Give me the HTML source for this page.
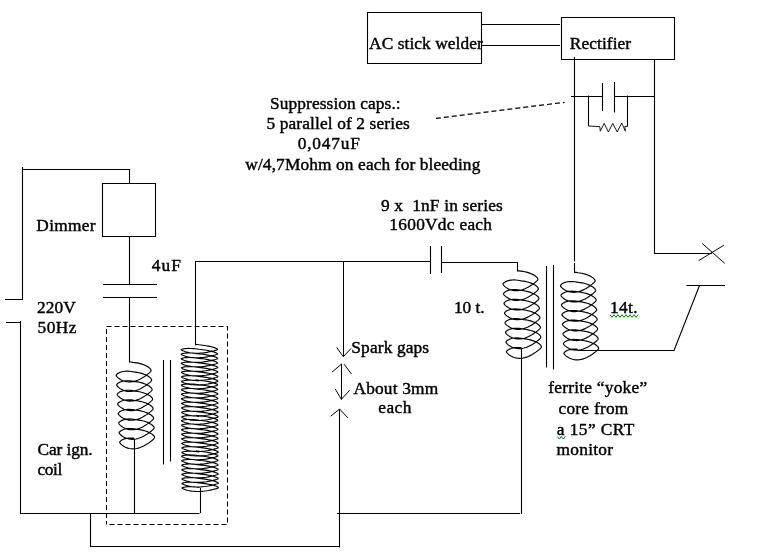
<!DOCTYPE html>
<html><head><meta charset="utf-8"><title>Circuit</title>
<style>html,body{margin:0;padding:0;background:#fff;}body{width:759px;height:554px;overflow:hidden;position:relative;}svg{display:block;position:absolute;left:0;top:0;}#main{will-change:transform;filter:grayscale(1);}text{font-family:"Liberation Serif",serif;font-size:17.33px;fill:#000;stroke:#000;stroke-width:0.42px;white-space:pre;}</style></head><body>
<svg id="main" width="759" height="554" viewBox="0 0 759 554">
<rect width="759" height="554" fill="#fff"/>
<g fill="none" stroke="#000" stroke-width="1.1">
<path d="M367.5,12.5 H481.5 V63.5 H367.5 Z" />
<path d="M561.5,17.5 H674.5 V59.5 H561.5 Z" />
<path d="M481.5,24.5 H560 M481.5,45.5 H560" />
<path d="M574.5,57 V261.5" />
<path d="M654.5,59 V253.5 H712" />
<path d="M702.2,243.5 L724.7,263.3 M698.7,260.6 L723.9,245.2" stroke-width="1"/>
<path d="M571,96.5 H602.5 M602.5,83 V111 M614.5,82 V112.5 M614.5,96.5 H654.5" />
<path d="M588.5,95.5 V126 M627.5,95.5 V126.5" />
<path d="M588.5,126 L599.8,126.6 L600.3,131.2 L604.2,123.4 L608.4,132 L612.8,123.4 L617.2,132 L621.7,123 L625.4,131.2 L624.8,126.5 L627.5,126.3" stroke-width="0.9" stroke-linejoin="miter"/>
<path d="M435.9,118.4 L564.6,102.3" stroke-dasharray="5,3" stroke-width="1.25"/>
<path d="M5,299.5 H22.5 M22.5,300 V167 M22.5,169.5 H129.5 V183.5" />
<path d="M102.5,183.5 H155.5 V236.5 H102.5 Z" />
<path d="M129.5,236.5 V284.5 M103,284.5 H157 M103,297.5 H157 M129.5,297.5 V362.5" />
<path d="M6,322.5 H20.5 M20.5,321 V513 M20,513.5 H199.5 M200.5,513 V488" />
<path d="M134.5,439 V513.5" />
<path d="M90.5,513.5 V546.5 H339.5 M339.5,547.5 V409.5" />
<path d="M106.5,326.5 H227.5 V524.5 H106.5" stroke-dasharray="5,3"/>
<path d="M106.5,329 V524.5" stroke-dasharray="5,3"/>
<path d="M163.5,360 V464.5 M170.5,360 V461.5" />
<path d="M195.5,345.5 V261.5 H430.5" />
<path d="M430.5,246 V274 M441.5,246 V273 M441.5,262.5 H517.5 V271.5" />
<path d="M343.5,261.5 V356.5 M336.6,347.4 L343.3,356.7 L351.1,348.4" stroke-width="1"/>
<path d="M341.5,364 V399.5 M332,372.1 L341.8,363.9 M344,364.2 L351.5,374 M335.1,388.8 L341.4,399.3 L349.7,390.2" stroke-width="1"/>
<path d="M330.7,416.2 L339.6,409 L347.9,417.9" stroke-width="1"/>
<path d="M337,513.5 H520 M521.5,514 V348" />
<path d="M546.5,266 V367.5 M553.5,265 V369.5" />
<path d="M578,350.5 H674 L699.5,285.5 M686.5,285.5 H725" />
<path d="M574.5,263 V273" />
<path d="M129.37,361.73 L131.19,361.97 L133.03,362.32 L134.88,362.56 L136.71,362.83 L138.51,363.18 L140.25,363.60 L141.91,364.09 L143.49,364.65 L144.95,365.25 L146.29,365.89 L147.48,366.56 L148.53,367.24 L149.41,367.94 L150.11,368.62 L150.64,369.28 L150.97,369.90 L151.12,370.47 L151.07,370.84 L150.83,371.25 L150.41,371.76 L149.79,372.37 L149.00,373.08 L148.05,373.88 L146.93,374.76 L145.67,375.68 L144.27,376.64 L142.76,377.60 L141.15,378.53 L139.46,379.41 L137.70,380.19 L135.90,380.86 L134.07,381.38 L132.24,381.75 L130.42,381.94 L128.64,381.95 L126.92,381.79 L125.27,381.48 L123.71,381.01 L122.26,380.43 L120.93,379.77 L119.75,379.05 L118.71,378.32 L117.85,377.60 L117.15,376.93 L116.64,376.34 L116.31,375.84 L116.18,375.45 L116.24,375.11 L116.49,374.70 L116.92,374.22 L117.55,373.69 L118.35,373.16 L119.32,372.65 L120.45,372.18 L121.72,371.77 L123.13,371.46 L124.65,371.24 L126.28,371.14 L127.99,371.15 L129.76,371.28 L131.58,371.52 L133.42,371.86 L135.27,372.10 L137.10,372.37 L138.90,372.71 L140.64,373.13 L142.31,373.62 L143.89,374.17 L145.36,374.77 L146.71,375.41 L147.91,376.08 L148.97,376.76 L149.86,377.45 L150.57,378.14 L151.11,378.80 L151.46,379.42 L151.62,380.00 L151.58,380.38 L151.35,380.78 L150.94,381.29 L150.34,381.89 L149.56,382.60 L148.61,383.39 L147.50,384.26 L146.25,385.19 L144.86,386.14 L143.36,387.10 L141.75,388.04 L140.06,388.91 L138.31,389.70 L136.51,390.38 L134.68,390.91 L132.85,391.29 L131.03,391.49 L129.25,391.52 L127.52,391.37 L125.87,391.06 L124.30,390.61 L122.84,390.03 L121.51,389.37 L120.32,388.66 L119.27,387.93 L118.40,387.21 L117.69,386.53 L117.17,385.93 L116.83,385.42 L116.68,385.03 L116.73,384.70 L116.96,384.29 L117.39,383.81 L118.00,383.29 L118.79,382.76 L119.75,382.24 L120.87,381.76 L122.14,381.36 L123.54,381.03 L125.06,380.81 L126.67,380.70 L128.38,380.71 L130.15,380.83 L131.96,381.06 L133.80,381.39 L135.65,381.65 L137.49,381.91 L139.29,382.25 L141.04,382.67 L142.71,383.15 L144.30,383.70 L145.78,384.29 L147.13,384.93 L148.34,385.59 L149.41,386.28 L150.31,386.97 L151.04,387.65 L151.58,388.32 L151.94,388.94 L152.11,389.53 L152.09,389.92 L151.87,390.31 L151.47,390.81 L150.88,391.41 L150.11,392.11 L149.17,392.90 L148.08,393.77 L146.83,394.69 L145.45,395.64 L143.95,396.60 L142.35,397.54 L140.67,398.42 L138.92,399.22 L137.12,399.90 L135.30,400.45 L133.46,400.83 L131.65,401.04 L129.86,401.08 L128.13,400.94 L126.47,400.64 L124.89,400.20 L123.43,399.63 L122.09,398.98 L120.89,398.26 L119.83,397.53 L118.94,396.81 L118.23,396.13 L117.69,395.53 L117.34,395.01 L117.18,394.61 L117.22,394.28 L117.44,393.87 L117.86,393.40 L118.46,392.88 L119.24,392.35 L120.19,391.83 L121.30,391.35 L122.56,390.94 L123.95,390.61 L125.46,390.38 L127.07,390.27 L128.77,390.26 L130.54,390.38 L132.35,390.60 L134.19,390.93 L136.04,391.19 L137.88,391.45 L139.68,391.79 L141.43,392.20 L143.11,392.68 L144.70,393.22 L146.19,393.81 L147.55,394.45 L148.77,395.11 L149.85,395.80 L150.76,396.49 L151.50,397.17 L152.05,397.84 L152.43,398.47 L152.61,399.05 L152.60,399.46 L152.39,399.85 L152.00,400.34 L151.42,400.93 L150.66,401.63 L149.74,402.41 L148.65,403.27 L147.41,404.19 L146.04,405.14 L144.55,406.10 L142.96,407.04 L141.28,407.93 L139.53,408.73 L137.73,409.42 L135.91,409.98 L134.08,410.37 L132.26,410.60 L130.47,410.64 L128.73,410.52 L127.07,410.23 L125.49,409.79 L124.02,409.23 L122.67,408.58 L121.46,407.87 L120.39,407.14 L119.49,406.41 L118.77,405.73 L118.22,405.12 L117.86,404.60 L117.69,404.19 L117.71,403.86 L117.92,403.46 L118.33,402.99 L118.92,402.47 L119.69,401.94 L120.63,401.42 L121.73,400.94 L122.97,400.52 L124.36,400.19 L125.86,399.95 L127.47,399.83 L129.16,399.82 L130.93,399.93 L132.74,400.14 L134.58,400.47 L136.43,400.74 L138.26,400.99 L140.07,401.32 L141.82,401.73 L143.51,402.21 L145.11,402.74 L146.60,403.34 L147.97,403.97 L149.20,404.63 L150.29,405.31 L151.21,406.01 L151.96,406.69 L152.52,407.36 L152.91,407.99 L153.10,408.58 L153.10,409.00 L152.91,409.38 L152.53,409.86 L151.96,410.45 L151.22,411.14 L150.30,411.92 L149.22,412.78 L147.99,413.69 L146.63,414.64 L145.14,415.61 L143.56,416.55 L141.88,417.44 L140.14,418.25 L138.34,418.94 L136.52,419.51 L134.69,419.91 L132.87,420.15 L131.08,420.21 L129.34,420.09 L127.67,419.81 L126.08,419.38 L124.60,418.83 L123.25,418.18 L122.03,417.47 L120.95,416.74 L120.04,416.02 L119.31,415.33 L118.75,414.72 L118.38,414.19 L118.19,413.77 L118.20,413.44 L118.41,413.05 L118.80,412.58 L119.38,412.07 L120.13,411.53 L121.06,411.01 L122.15,410.53 L123.39,410.11 L124.77,409.77 L126.27,409.53 L127.87,409.39 L129.56,409.38 L131.32,409.48 L133.12,409.69 L134.96,410.00 L136.81,410.29 L138.65,410.53 L140.46,410.86 L142.22,411.26 L143.91,411.74 L145.51,412.27 L147.01,412.86 L148.39,413.49 L149.63,414.15 L150.72,414.83 L151.65,415.52 L152.41,416.21 L152.99,416.88 L153.39,417.51 L153.59,418.10 L153.61,418.54 L153.43,418.91 L153.06,419.39 L152.50,419.97 L151.77,420.66 L150.86,421.43 L149.79,422.28 L148.57,423.19 L147.22,424.14 L145.74,425.11 L144.16,426.05 L142.49,426.94 L140.75,427.76 L138.96,428.46 L137.14,429.04 L135.30,429.45 L133.48,429.70 L131.69,429.77 L129.94,429.66 L128.27,429.39 L126.68,428.97 L125.19,428.42 L123.83,427.78 L122.60,427.08 L121.52,426.35 L120.60,425.62 L119.85,424.93 L119.28,424.31 L118.89,423.78 L118.70,423.36 L118.70,423.03 L118.89,422.63 L119.27,422.17 L119.84,421.66 L120.58,421.13 L121.50,420.60 L122.58,420.12 L123.81,419.69 L125.18,419.35 L126.67,419.10 L128.27,418.96 L129.95,418.94 L131.71,419.03 L133.51,419.23 L135.35,419.54 L137.20,419.84 L139.04,420.08 L140.85,420.40 L142.61,420.80 L144.31,421.26 L145.92,421.80 L147.42,422.38 L148.81,423.01 L150.06,423.67 L151.16,424.35 L152.10,425.04 L152.87,425.73 L153.46,426.40 L153.87,427.03 L154.09,427.63 L154.11,428.08 L153.94,428.45 L153.59,428.92 L153.04,429.49 L152.32,430.17 L151.42,430.94 L150.36,431.79 L149.15,432.70 L147.80,433.65 L146.33,434.61 L144.76,435.55 L143.09,436.45 L141.36,437.27 L139.57,437.98 L137.75,438.57 L135.92,438.99 L134.09,439.25 L132.30,439.33 L130.55,439.23 L128.87,438.97 L127.27,438.56 L125.78,438.02 L124.41,437.38 L123.17,436.68 L122.08,435.95 L121.15,435.22 L120.39,434.53 L119.81,433.91 L119.41,433.37 L119.21,432.94 L119.19,432.61 L119.37,432.22 L119.74,431.76 L120.30,431.25 L121.03,430.72 L121.94,430.19 L123.01,429.71 L124.23,429.27 L125.59,428.92 L127.08,428.67 L128.67,428.52 L130.35,428.49 L132.10,428.58 L133.90,428.78 L135.74,429.08 L137.58,429.38 L139.42,429.62 L141.24,429.94 L143.00,430.33 L144.70,430.79 L146.32,431.32 L147.83,431.90 L149.23,432.53 L150.48,433.19 L151.60,433.87 L152.55,434.56 L153.33,435.24 L153.93,435.91 L154.35,436.56 L154.58,437.15 L154.62,437.62 L154.46,437.98 L154.11,438.45 L153.58,439.02 L152.87,439.69 L151.98,440.45 L150.93,441.29 L149.73,442.20 L148.39,443.15 L146.93,444.11 L145.36,445.06 L143.70,445.96 L141.96,446.78 L140.18,447.50 L138.36,448.09 L136.53,448.53 L134.70,448.80 L132.91,448.89 L131.15,448.80 L129.47,448.55 L127.87,448.15 L126.37,447.62 L124.99,446.99 L123.74,446.29 L122.64,445.56 L121.70,444.83 L120.93,444.13 L120.34,443.50 L119.93,442.96 L119.71,442.52 L119.69,442.19 L119.85,441.81 L120.21,441.35 L120.76,440.84 L121.48,440.31 L122.38,439.79 L123.44,439.29 L124.65,438.86 L126.01,438.50 L127.48,438.24 L129.06,438.09 L130.74,438.05 L132.49,438.13 L134.29,438.32" stroke-width="1.15" stroke-linejoin="round"/>
<path d="M195.33,344.27 L197.20,344.50 L199.10,344.77 L201.01,344.98 L202.89,345.21 L204.74,345.47 L206.52,345.76 L208.23,346.08 L209.84,346.42 L211.33,346.77 L212.69,347.13 L213.91,347.49 L214.97,347.85 L215.85,348.21 L216.55,348.54 L217.07,348.86 L217.39,349.15 L217.51,349.41 L217.44,349.55 L217.16,349.72 L216.69,349.91 L216.04,350.14 L215.19,350.40 L214.18,350.70 L213.00,351.01 L211.67,351.34 L210.21,351.67 L208.63,352.00 L206.94,352.32 L205.17,352.60 L203.34,352.84 L201.47,353.03 L199.57,353.16 L197.67,353.22 L195.79,353.21 L193.94,353.12 L192.16,352.96 L190.45,352.74 L188.84,352.46 L187.35,352.14 L185.98,351.79 L184.77,351.43 L183.71,351.06 L182.82,350.71 L182.11,350.39 L181.60,350.12 L181.27,349.89 L181.15,349.72 L181.22,349.58 L181.49,349.42 L181.96,349.23 L182.62,349.05 L183.46,348.87 L184.47,348.71 L185.65,348.58 L186.97,348.49 L188.43,348.44 L190.02,348.45 L191.70,348.51 L193.47,348.63 L195.30,348.80 L197.18,349.03 L199.08,349.30 L200.98,349.51 L202.86,349.74 L204.71,350.00 L206.50,350.29 L208.21,350.60 L209.82,350.94 L211.32,351.29 L212.69,351.65 L213.92,352.01 L214.98,352.38 L215.87,352.73 L216.59,353.07 L217.11,353.39 L217.44,353.68 L217.57,353.94 L217.51,354.09 L217.24,354.25 L216.78,354.44 L216.13,354.67 L215.30,354.93 L214.29,355.22 L213.12,355.53 L211.80,355.86 L210.34,356.20 L208.76,356.53 L207.08,356.84 L205.32,357.13 L203.49,357.37 L201.62,357.56 L199.72,357.69 L197.82,357.76 L195.93,357.75 L194.09,357.66 L192.30,357.51 L190.59,357.29 L188.97,357.02 L187.47,356.70 L186.10,356.35 L184.88,355.98 L183.81,355.62 L182.92,355.27 L182.20,354.95 L181.68,354.67 L181.34,354.44 L181.21,354.27 L181.27,354.13 L181.53,353.96 L181.99,353.78 L182.64,353.60 L183.47,353.41 L184.48,353.25 L185.65,353.12 L186.97,353.03 L188.42,352.98 L190.00,352.99 L191.68,353.05 L193.44,353.16 L195.27,353.33 L197.15,353.56 L199.05,353.82 L200.95,354.04 L202.84,354.26 L204.69,354.53 L206.48,354.81 L208.19,355.13 L209.81,355.46 L211.32,355.81 L212.69,356.17 L213.92,356.54 L214.99,356.90 L215.89,357.25 L216.62,357.59 L217.15,357.91 L217.49,358.20 L217.63,358.47 L217.57,358.62 L217.32,358.78 L216.87,358.97 L216.22,359.20 L215.40,359.46 L214.40,359.75 L213.24,360.06 L211.92,360.39 L210.47,360.72 L208.90,361.05 L207.22,361.37 L205.46,361.65 L203.64,361.90 L201.77,362.10 L199.87,362.23 L197.97,362.30 L196.08,362.29 L194.23,362.21 L192.44,362.06 L190.73,361.84 L189.11,361.57 L187.60,361.25 L186.22,360.90 L184.99,360.54 L183.92,360.17 L183.02,359.82 L182.29,359.50 L181.76,359.22 L181.41,358.99 L181.27,358.82 L181.32,358.68 L181.58,358.51 L182.03,358.33 L182.67,358.14 L183.49,357.96 L184.49,357.80 L185.65,357.67 L186.96,357.57 L188.41,357.52 L189.98,357.53 L191.66,357.58 L193.42,357.70 L195.24,357.87 L197.12,358.08 L199.02,358.35 L200.92,358.57 L202.81,358.79 L204.66,359.05 L206.46,359.34 L208.17,359.65 L209.80,359.99 L211.31,360.34 L212.69,360.70 L213.93,361.06 L215.01,361.42 L215.92,361.78 L216.65,362.12 L217.19,362.44 L217.54,362.73 L217.69,362.99 L217.64,363.15 L217.39,363.31 L216.95,363.50 L216.32,363.73 L215.50,363.99 L214.51,364.27 L213.35,364.58 L212.05,364.91 L210.60,365.25 L209.03,365.58 L207.36,365.89 L205.61,366.18 L203.78,366.43 L201.91,366.63 L200.02,366.76 L198.12,366.83 L196.23,366.83 L194.38,366.76 L192.58,366.61 L190.86,366.39 L189.24,366.12 L187.73,365.81 L186.35,365.46 L185.11,365.10 L184.03,364.73 L183.11,364.38 L182.38,364.06 L181.84,363.77 L181.49,363.54 L181.33,363.36 L181.38,363.22 L181.62,363.06 L182.06,362.88 L182.69,362.69 L183.51,362.51 L184.50,362.35 L185.65,362.21 L186.96,362.12 L188.40,362.06 L189.97,362.06 L191.64,362.12 L193.39,362.23 L195.22,362.40 L197.09,362.61 L198.99,362.88 L200.89,363.10 L202.78,363.32 L204.63,363.58 L206.43,363.87 L208.16,364.18 L209.78,364.51 L211.30,364.86 L212.69,365.22 L213.93,365.58 L215.02,365.95 L215.94,366.30 L216.68,366.64 L217.23,366.96 L217.59,367.26 L217.75,367.52 L217.71,367.69 L217.47,367.84 L217.04,368.03 L216.41,368.26 L215.60,368.51 L214.62,368.80 L213.47,369.11 L212.17,369.44 L210.73,369.77 L209.17,370.10 L207.50,370.42 L205.75,370.71 L203.93,370.96 L202.06,371.16 L200.17,371.30 L198.26,371.37 L196.38,371.37 L194.52,371.30 L192.73,371.16 L191.00,370.95 L189.37,370.68 L187.86,370.36 L186.47,370.02 L185.22,369.65 L184.13,369.29 L183.21,368.94 L182.47,368.61 L181.92,368.33 L181.56,368.09 L181.40,367.91 L181.43,367.77 L181.67,367.61 L182.10,367.43 L182.72,367.24 L183.52,367.06 L184.51,366.89 L185.65,366.76 L186.95,366.66 L188.39,366.61 L189.95,366.60 L191.62,366.66 L193.37,366.76 L195.19,366.93 L197.06,367.14 L198.96,367.40 L200.86,367.63 L202.75,367.85 L204.61,368.11 L206.41,368.39 L208.14,368.70 L209.77,369.04 L211.29,369.38 L212.69,369.74 L213.94,370.11 L215.03,370.47 L215.96,370.82 L216.71,371.17 L217.27,371.49 L217.63,371.78 L217.80,372.05 L217.77,372.22 L217.55,372.37 L217.12,372.56 L216.51,372.79 L215.71,373.04 L214.73,373.33 L213.59,373.63 L212.29,373.96 L210.86,374.29 L209.31,374.63 L207.64,374.94 L205.90,375.24 L204.08,375.49 L202.21,375.69 L200.32,375.83 L198.41,375.91 L196.52,375.91 L194.67,375.85 L192.87,375.70 L191.14,375.50 L189.51,375.23 L187.99,374.92 L186.59,374.57 L185.34,374.21 L184.24,373.85 L183.31,373.49 L182.56,373.17 L182.00,372.88 L181.63,372.64 L181.46,372.46 L181.48,372.32 L181.71,372.16 L182.13,371.98 L182.74,371.79 L183.54,371.61 L184.52,371.44 L185.66,371.30 L186.95,371.20 L188.38,371.15 L189.94,371.14 L191.60,371.19 L193.35,371.30 L195.16,371.46 L197.03,371.67 L198.93,371.93 L200.83,372.16 L202.72,372.38 L204.58,372.63 L206.39,372.92 L208.12,373.23 L209.76,373.56 L211.28,373.91 L212.68,374.27 L213.94,374.63 L215.05,374.99 L215.98,375.35 L216.73,375.69 L217.30,376.01 L217.68,376.31 L217.86,376.58 L217.84,376.75 L217.62,376.91 L217.21,377.09 L216.60,377.31 L215.81,377.57 L214.84,377.85 L213.71,378.16 L212.42,378.48 L210.99,378.82 L209.44,379.15 L207.78,379.47 L206.04,379.76 L204.22,380.02 L202.36,380.22 L200.47,380.37 L198.56,380.45 L196.67,380.46 L194.82,380.39 L193.01,380.25 L191.28,380.05 L189.64,379.79 L188.11,379.48 L186.71,379.13 L185.45,378.77 L184.35,378.40 L183.41,378.05 L182.65,377.72 L182.08,377.43 L181.70,377.19 L181.52,377.00 L181.54,376.86 L181.76,376.70 L182.17,376.53 L182.77,376.34 L183.56,376.16 L184.53,375.99 L185.66,375.85 L186.94,375.75 L188.37,375.69 L189.92,375.68 L191.58,375.73 L193.32,375.83 L195.14,375.99 L197.00,376.20 L198.90,376.46 L200.80,376.69 L202.70,376.91 L204.56,377.16 L206.36,377.44 L208.10,377.75 L209.74,378.08 L211.27,378.43 L212.68,378.79 L213.95,379.15 L215.06,379.51 L216.00,379.87 L216.76,380.21 L217.34,380.54 L217.73,380.84 L217.92,381.11 L217.90,381.29 L217.70,381.44 L217.29,381.62 L216.69,381.84 L215.91,382.10 L214.95,382.38 L213.82,382.68 L212.54,383.01 L211.12,383.34 L209.58,383.68 L207.92,384.00 L206.18,384.29 L204.37,384.55 L202.51,384.75 L200.61,384.90 L198.71,384.99 L196.82,385.00 L194.96,384.94 L193.16,384.80 L191.42,384.60 L189.78,384.34 L188.24,384.03 L186.83,383.69 L185.57,383.33 L184.46,382.96 L183.51,382.60 L182.75,382.27 L182.17,381.98 L181.78,381.74 L181.59,381.55 L181.59,381.41 L181.80,381.25 L182.20,381.07 L182.80,380.89 L183.58,380.70 L184.54,380.54 L185.66,380.40 L186.94,380.29 L188.36,380.23 L189.90,380.22 L191.56,380.27 L193.30,380.37 L195.11,380.52 L196.98,380.73 L198.87,380.98" stroke-width="1.15" stroke-linejoin="round"/>
<path d="M195.48,379.77 L197.35,380.00 L199.25,380.27 L201.16,380.48 L203.04,380.71 L204.89,380.97 L206.67,381.26 L208.38,381.58 L209.99,381.92 L211.48,382.27 L212.84,382.63 L214.06,382.99 L215.12,383.35 L216.00,383.71 L216.70,384.04 L217.22,384.36 L217.54,384.65 L217.66,384.91 L217.59,385.05 L217.31,385.22 L216.84,385.41 L216.19,385.64 L215.34,385.90 L214.33,386.20 L213.15,386.51 L211.82,386.84 L210.36,387.17 L208.78,387.50 L207.09,387.82 L205.32,388.10 L203.49,388.34 L201.62,388.53 L199.72,388.66 L197.82,388.72 L195.94,388.71 L194.09,388.62 L192.31,388.46 L190.60,388.24 L188.99,387.96 L187.50,387.64 L186.13,387.29 L184.92,386.93 L183.86,386.56 L182.97,386.21 L182.26,385.89 L181.75,385.62 L181.42,385.39 L181.30,385.22 L181.37,385.08 L181.64,384.92 L182.11,384.73 L182.77,384.55 L183.61,384.37 L184.62,384.21 L185.80,384.08 L187.12,383.99 L188.58,383.94 L190.17,383.95 L191.85,384.01 L193.62,384.13 L195.45,384.30 L197.33,384.53 L199.23,384.80 L201.13,385.01 L203.01,385.24 L204.86,385.50 L206.65,385.79 L208.36,386.10 L209.97,386.44 L211.47,386.79 L212.84,387.15 L214.07,387.51 L215.13,387.88 L216.02,388.23 L216.74,388.57 L217.26,388.89 L217.59,389.18 L217.72,389.44 L217.66,389.59 L217.39,389.75 L216.93,389.94 L216.28,390.17 L215.45,390.43 L214.44,390.72 L213.27,391.03 L211.95,391.36 L210.49,391.70 L208.91,392.03 L207.23,392.34 L205.47,392.63 L203.64,392.87 L201.77,393.06 L199.87,393.19 L197.97,393.26 L196.08,393.25 L194.24,393.16 L192.45,393.01 L190.74,392.79 L189.12,392.52 L187.62,392.20 L186.25,391.85 L185.03,391.48 L183.96,391.12 L183.07,390.77 L182.35,390.45 L181.83,390.17 L181.49,389.94 L181.36,389.77 L181.42,389.63 L181.68,389.46 L182.14,389.28 L182.79,389.10 L183.62,388.91 L184.63,388.75 L185.80,388.62 L187.12,388.53 L188.57,388.48 L190.15,388.49 L191.83,388.55 L193.59,388.66 L195.42,388.83 L197.30,389.06 L199.20,389.32 L201.10,389.54 L202.99,389.76 L204.84,390.03 L206.63,390.31 L208.34,390.63 L209.96,390.96 L211.47,391.31 L212.84,391.67 L214.07,392.04 L215.14,392.40 L216.04,392.75 L216.77,393.09 L217.30,393.41 L217.64,393.70 L217.78,393.97 L217.72,394.12 L217.47,394.28 L217.02,394.47 L216.37,394.70 L215.55,394.96 L214.55,395.25 L213.39,395.56 L212.07,395.89 L210.62,396.22 L209.05,396.55 L207.37,396.87 L205.61,397.15 L203.79,397.40 L201.92,397.60 L200.02,397.73 L198.12,397.80 L196.23,397.79 L194.38,397.71 L192.59,397.56 L190.88,397.34 L189.26,397.07 L187.75,396.75 L186.37,396.40 L185.14,396.04 L184.07,395.67 L183.17,395.32 L182.44,395.00 L181.91,394.72 L181.56,394.49 L181.42,394.32 L181.47,394.18 L181.73,394.01 L182.18,393.83 L182.82,393.64 L183.64,393.46 L184.64,393.30 L185.80,393.17 L187.11,393.07 L188.56,393.02 L190.13,393.03 L191.81,393.08 L193.57,393.20 L195.39,393.37 L197.27,393.58 L199.17,393.85 L201.07,394.07 L202.96,394.29 L204.81,394.55 L206.61,394.84 L208.32,395.15 L209.95,395.49 L211.46,395.84 L212.84,396.20 L214.08,396.56 L215.16,396.92 L216.07,397.28 L216.80,397.62 L217.34,397.94 L217.69,398.23 L217.84,398.49 L217.79,398.65 L217.54,398.81 L217.10,399.00 L216.47,399.23 L215.65,399.49 L214.66,399.77 L213.50,400.08 L212.20,400.41 L210.75,400.75 L209.18,401.08 L207.51,401.39 L205.76,401.68 L203.93,401.93 L202.06,402.13 L200.17,402.26 L198.27,402.33 L196.38,402.33 L194.53,402.26 L192.73,402.11 L191.01,401.89 L189.39,401.62 L187.88,401.31 L186.50,400.96 L185.26,400.60 L184.18,400.23 L183.26,399.88 L182.53,399.56 L181.99,399.27 L181.64,399.04 L181.48,398.86 L181.53,398.72 L181.77,398.56 L182.21,398.38 L182.84,398.19 L183.66,398.01 L184.65,397.85 L185.80,397.71 L187.11,397.62 L188.55,397.56 L190.12,397.56 L191.79,397.62 L193.54,397.73 L195.37,397.90 L197.24,398.11 L199.14,398.38 L201.04,398.60 L202.93,398.82 L204.78,399.08 L206.58,399.37 L208.31,399.68 L209.93,400.01 L211.45,400.36 L212.84,400.72 L214.08,401.08 L215.17,401.45 L216.09,401.80 L216.83,402.14 L217.38,402.46 L217.74,402.76 L217.90,403.02 L217.86,403.19 L217.62,403.34 L217.19,403.53 L216.56,403.76 L215.75,404.01 L214.77,404.30 L213.62,404.61 L212.32,404.94 L210.88,405.27 L209.32,405.60 L207.65,405.92 L205.90,406.21 L204.08,406.46 L202.21,406.66 L200.32,406.80 L198.41,406.87 L196.53,406.87 L194.67,406.80 L192.88,406.66 L191.15,406.45 L189.52,406.18 L188.01,405.86 L186.62,405.52 L185.37,405.15 L184.28,404.79 L183.36,404.44 L182.62,404.11 L182.07,403.83 L181.71,403.59 L181.55,403.41 L181.58,403.27 L181.82,403.11 L182.25,402.93 L182.87,402.74 L183.67,402.56 L184.66,402.39 L185.80,402.26 L187.10,402.16 L188.54,402.11 L190.10,402.10 L191.77,402.16 L193.52,402.26 L195.34,402.43 L197.21,402.64 L199.11,402.90 L201.01,403.13 L202.90,403.35 L204.76,403.61 L206.56,403.89 L208.29,404.20 L209.92,404.54 L211.44,404.88 L212.84,405.24 L214.09,405.61 L215.18,405.97 L216.11,406.32 L216.86,406.67 L217.42,406.99 L217.78,407.28 L217.95,407.55 L217.92,407.72 L217.70,407.87 L217.27,408.06 L216.66,408.29 L215.86,408.54 L214.88,408.83 L213.74,409.13 L212.44,409.46 L211.01,409.79 L209.46,410.13 L207.79,410.44 L206.05,410.74 L204.23,410.99 L202.36,411.19 L200.47,411.33 L198.56,411.41 L196.67,411.41 L194.82,411.35 L193.02,411.20 L191.29,411.00 L189.66,410.73 L188.14,410.42 L186.74,410.07 L185.49,409.71 L184.39,409.35 L183.46,408.99 L182.71,408.67 L182.15,408.38 L181.78,408.14 L181.61,407.96 L181.63,407.82 L181.86,407.66 L182.28,407.48 L182.89,407.29 L183.69,407.11 L184.67,406.94 L185.81,406.80 L187.10,406.70 L188.53,406.65 L190.09,406.64 L191.75,406.69 L193.50,406.80 L195.31,406.96 L197.18,407.17 L199.08,407.43 L200.98,407.66 L202.87,407.88 L204.73,408.13 L206.54,408.42 L208.27,408.73 L209.91,409.06 L211.43,409.41 L212.83,409.77 L214.09,410.13 L215.20,410.49 L216.13,410.85 L216.88,411.19 L217.45,411.51 L217.83,411.81 L218.01,412.08 L217.99,412.25 L217.77,412.41 L217.36,412.59 L216.75,412.81 L215.96,413.07 L214.99,413.35 L213.86,413.66 L212.57,413.98 L211.14,414.32 L209.59,414.65 L207.93,414.97 L206.19,415.26 L204.37,415.52 L202.51,415.72 L200.62,415.87 L198.71,415.95 L196.82,415.96 L194.97,415.89 L193.16,415.75 L191.43,415.55 L189.79,415.29 L188.26,414.98 L186.86,414.63 L185.60,414.27 L184.50,413.90 L183.56,413.55 L182.80,413.22 L182.23,412.93 L181.85,412.69 L181.67,412.50 L181.69,412.36 L181.91,412.20 L182.32,412.03 L182.92,411.84 L183.71,411.66 L184.68,411.49 L185.81,411.35 L187.09,411.25 L188.52,411.19 L190.07,411.18 L191.73,411.23 L193.47,411.33 L195.29,411.49 L197.15,411.70 L199.05,411.96 L200.95,412.19 L202.85,412.41 L204.71,412.66 L206.51,412.94 L208.25,413.25 L209.89,413.58 L211.42,413.93 L212.83,414.29 L214.10,414.65 L215.21,415.01 L216.15,415.37 L216.91,415.71 L217.49,416.04 L217.88,416.34 L218.07,416.61 L218.05,416.79 L217.85,416.94 L217.44,417.12 L216.84,417.34 L216.06,417.60 L215.10,417.88 L213.97,418.18 L212.69,418.51 L211.27,418.84 L209.73,419.18 L208.07,419.50 L206.33,419.79 L204.52,420.05 L202.66,420.25 L200.76,420.40 L198.86,420.49 L196.97,420.50 L195.11,420.44 L193.31,420.30 L191.57,420.10 L189.93,419.84 L188.39,419.53 L186.98,419.19 L185.72,418.83 L184.61,418.46 L183.66,418.10 L182.90,417.77 L182.32,417.48 L181.93,417.24 L181.74,417.05 L181.74,416.91 L181.95,416.75 L182.35,416.57 L182.95,416.39 L183.73,416.20 L184.69,416.04 L185.81,415.90 L187.09,415.79 L188.51,415.73 L190.05,415.72 L191.71,415.77 L193.45,415.87 L195.26,416.02 L197.13,416.23 L199.02,416.48" stroke-width="1.15" stroke-linejoin="round"/>
<path d="M195.63,415.27 L197.50,415.50 L199.40,415.77 L201.31,415.98 L203.19,416.21 L205.04,416.47 L206.82,416.76 L208.53,417.08 L210.14,417.42 L211.63,417.77 L212.99,418.13 L214.21,418.49 L215.27,418.85 L216.15,419.21 L216.85,419.54 L217.37,419.86 L217.69,420.15 L217.81,420.41 L217.74,420.55 L217.46,420.72 L216.99,420.91 L216.34,421.14 L215.49,421.40 L214.48,421.70 L213.30,422.01 L211.97,422.34 L210.51,422.67 L208.93,423.00 L207.24,423.32 L205.47,423.60 L203.64,423.84 L201.77,424.03 L199.87,424.16 L197.97,424.22 L196.09,424.21 L194.24,424.12 L192.46,423.96 L190.75,423.74 L189.14,423.46 L187.65,423.14 L186.28,422.79 L185.07,422.43 L184.01,422.06 L183.12,421.71 L182.41,421.39 L181.90,421.12 L181.57,420.89 L181.45,420.72 L181.52,420.58 L181.79,420.42 L182.26,420.23 L182.92,420.05 L183.76,419.87 L184.77,419.71 L185.95,419.58 L187.27,419.49 L188.73,419.44 L190.32,419.45 L192.00,419.51 L193.77,419.63 L195.60,419.80 L197.48,420.03 L199.38,420.30 L201.28,420.51 L203.16,420.74 L205.01,421.00 L206.80,421.29 L208.51,421.60 L210.12,421.94 L211.62,422.29 L212.99,422.65 L214.22,423.01 L215.28,423.38 L216.17,423.73 L216.89,424.07 L217.41,424.39 L217.74,424.68 L217.87,424.94 L217.81,425.09 L217.54,425.25 L217.08,425.44 L216.43,425.67 L215.60,425.93 L214.59,426.22 L213.42,426.53 L212.10,426.86 L210.64,427.20 L209.06,427.53 L207.38,427.84 L205.62,428.13 L203.79,428.37 L201.92,428.56 L200.02,428.69 L198.12,428.76 L196.23,428.75 L194.39,428.66 L192.60,428.51 L190.89,428.29 L189.27,428.02 L187.77,427.70 L186.40,427.35 L185.18,426.98 L184.11,426.62 L183.22,426.27 L182.50,425.95 L181.98,425.67 L181.64,425.44 L181.51,425.27 L181.57,425.13 L181.83,424.96 L182.29,424.78 L182.94,424.60 L183.77,424.41 L184.78,424.25 L185.95,424.12 L187.27,424.03 L188.72,423.98 L190.30,423.99 L191.98,424.05 L193.74,424.16 L195.57,424.33 L197.45,424.56 L199.35,424.82 L201.25,425.04 L203.14,425.26 L204.99,425.53 L206.78,425.81 L208.49,426.13 L210.11,426.46 L211.62,426.81 L212.99,427.17 L214.22,427.54 L215.29,427.90 L216.19,428.25 L216.92,428.59 L217.45,428.91 L217.79,429.20 L217.93,429.47 L217.87,429.62 L217.62,429.78 L217.17,429.97 L216.52,430.20 L215.70,430.46 L214.70,430.75 L213.54,431.06 L212.22,431.39 L210.77,431.72 L209.20,432.05 L207.52,432.37 L205.76,432.65 L203.94,432.90 L202.07,433.10 L200.17,433.23 L198.27,433.30 L196.38,433.29 L194.53,433.21 L192.74,433.06 L191.03,432.84 L189.41,432.57 L187.90,432.25 L186.52,431.90 L185.29,431.54 L184.22,431.17 L183.32,430.82 L182.59,430.50 L182.06,430.22 L181.71,429.99 L181.57,429.82 L181.62,429.68 L181.88,429.51 L182.33,429.33 L182.97,429.14 L183.79,428.96 L184.79,428.80 L185.95,428.67 L187.26,428.57 L188.71,428.52 L190.28,428.53 L191.96,428.58 L193.72,428.70 L195.54,428.87 L197.42,429.08 L199.32,429.35 L201.22,429.57 L203.11,429.79 L204.96,430.05 L206.76,430.34 L208.47,430.65 L210.10,430.99 L211.61,431.34 L212.99,431.70 L214.23,432.06 L215.31,432.42 L216.22,432.78 L216.95,433.12 L217.49,433.44 L217.84,433.73 L217.99,433.99 L217.94,434.15 L217.69,434.31 L217.25,434.50 L216.62,434.73 L215.80,434.99 L214.81,435.27 L213.65,435.58 L212.35,435.91 L210.90,436.25 L209.33,436.58 L207.66,436.89 L205.91,437.18 L204.08,437.43 L202.21,437.63 L200.32,437.76 L198.42,437.83 L196.53,437.83 L194.68,437.76 L192.88,437.61 L191.16,437.39 L189.54,437.12 L188.03,436.81 L186.65,436.46 L185.41,436.10 L184.33,435.73 L183.41,435.38 L182.68,435.06 L182.14,434.77 L181.79,434.54 L181.63,434.36 L181.68,434.22 L181.92,434.06 L182.36,433.88 L182.99,433.69 L183.81,433.51 L184.80,433.35 L185.95,433.21 L187.26,433.12 L188.70,433.06 L190.27,433.06 L191.94,433.12 L193.69,433.23 L195.52,433.40 L197.39,433.61 L199.29,433.88 L201.19,434.10 L203.08,434.32 L204.93,434.58 L206.73,434.87 L208.46,435.18 L210.08,435.51 L211.60,435.86 L212.99,436.22 L214.23,436.58 L215.32,436.95 L216.24,437.30 L216.98,437.64 L217.53,437.96 L217.89,438.26 L218.05,438.52 L218.01,438.69 L217.77,438.84 L217.34,439.03 L216.71,439.26 L215.90,439.51 L214.92,439.80 L213.77,440.11 L212.47,440.44 L211.03,440.77 L209.47,441.10 L207.80,441.42 L206.05,441.71 L204.23,441.96 L202.36,442.16 L200.47,442.30 L198.56,442.37 L196.68,442.37 L194.82,442.30 L193.03,442.16 L191.30,441.95 L189.67,441.68 L188.16,441.36 L186.77,441.02 L185.52,440.65 L184.43,440.29 L183.51,439.94 L182.77,439.61 L182.22,439.33 L181.86,439.09 L181.70,438.91 L181.73,438.77 L181.97,438.61 L182.40,438.43 L183.02,438.24 L183.82,438.06 L184.81,437.89 L185.95,437.76 L187.25,437.66 L188.69,437.61 L190.25,437.60 L191.92,437.66 L193.67,437.76 L195.49,437.93 L197.36,438.14 L199.26,438.40 L201.16,438.63 L203.05,438.85 L204.91,439.11 L206.71,439.39 L208.44,439.70 L210.07,440.04 L211.59,440.38 L212.99,440.74 L214.24,441.11 L215.33,441.47 L216.26,441.82 L217.01,442.17 L217.57,442.49 L217.93,442.78 L218.10,443.05 L218.07,443.22 L217.85,443.37 L217.42,443.56 L216.81,443.79 L216.01,444.04 L215.03,444.33 L213.89,444.63 L212.59,444.96 L211.16,445.29 L209.61,445.63 L207.94,445.94 L206.20,446.24 L204.38,446.49 L202.51,446.69 L200.62,446.83 L198.71,446.91 L196.82,446.91 L194.97,446.85 L193.17,446.70 L191.44,446.50 L189.81,446.23 L188.29,445.92 L186.89,445.57 L185.64,445.21 L184.54,444.85 L183.61,444.49 L182.86,444.17 L182.30,443.88 L181.93,443.64 L181.76,443.46 L181.78,443.32 L182.01,443.16 L182.43,442.98 L183.04,442.79 L183.84,442.61 L184.82,442.44 L185.96,442.30 L187.25,442.20 L188.68,442.15 L190.24,442.14 L191.90,442.19 L193.65,442.30 L195.46,442.46 L197.33,442.67 L199.23,442.93 L201.13,443.16 L203.02,443.38 L204.88,443.63 L206.69,443.92 L208.42,444.23 L210.06,444.56 L211.58,444.91 L212.98,445.27 L214.24,445.63 L215.35,445.99 L216.28,446.35 L217.03,446.69 L217.60,447.01 L217.98,447.31 L218.16,447.58 L218.14,447.75 L217.92,447.91 L217.51,448.09 L216.90,448.31 L216.11,448.57 L215.14,448.85 L214.01,449.16 L212.72,449.48 L211.29,449.82 L209.74,450.15 L208.08,450.47 L206.34,450.76 L204.52,451.02 L202.66,451.22 L200.77,451.37 L198.86,451.45 L196.97,451.46 L195.12,451.39 L193.31,451.25 L191.58,451.05 L189.94,450.79 L188.41,450.48 L187.01,450.13 L185.75,449.77 L184.65,449.40 L183.71,449.05 L182.95,448.72 L182.38,448.43 L182.00,448.19 L181.82,448.00 L181.84,447.86 L182.06,447.70 L182.47,447.53 L183.07,447.34 L183.86,447.16 L184.83,446.99 L185.96,446.85 L187.24,446.75 L188.67,446.69 L190.22,446.68 L191.88,446.73 L193.62,446.83 L195.44,446.99 L197.30,447.20 L199.20,447.46 L201.10,447.69 L203.00,447.91 L204.86,448.16 L206.66,448.44 L208.40,448.75 L210.04,449.08 L211.57,449.43 L212.98,449.79 L214.25,450.15 L215.36,450.51 L216.30,450.87 L217.06,451.21 L217.64,451.54 L218.03,451.84 L218.22,452.11 L218.20,452.29 L218.00,452.44 L217.59,452.62 L216.99,452.84 L216.21,453.10 L215.25,453.38 L214.12,453.68 L212.84,454.01 L211.42,454.34 L209.88,454.68 L208.22,455.00 L206.48,455.29 L204.67,455.55 L202.81,455.75 L200.91,455.90 L199.01,455.99 L197.12,456.00 L195.26,455.94 L193.46,455.80 L191.72,455.60 L190.08,455.34 L188.54,455.03 L187.13,454.69 L185.87,454.33 L184.76,453.96 L183.81,453.60 L183.05,453.27 L182.47,452.98 L182.08,452.74 L181.89,452.55 L181.89,452.41 L182.10,452.25 L182.50,452.07 L183.10,451.89 L183.88,451.70 L184.84,451.54 L185.96,451.40 L187.24,451.29 L188.66,451.23 L190.20,451.22 L191.86,451.27 L193.60,451.37 L195.41,451.52 L197.28,451.73 L199.17,451.98" stroke-width="1.15" stroke-linejoin="round"/>
<path d="M195.78,450.77 L197.65,451.00 L199.55,451.27 L201.46,451.48 L203.34,451.71 L205.19,451.97 L206.97,452.26 L208.68,452.58 L210.29,452.92 L211.78,453.27 L213.14,453.63 L214.36,453.99 L215.42,454.35 L216.30,454.71 L217.00,455.04 L217.52,455.36 L217.84,455.65 L217.96,455.91 L217.89,456.05 L217.61,456.22 L217.14,456.41 L216.49,456.64 L215.64,456.90 L214.63,457.20 L213.45,457.51 L212.12,457.84 L210.66,458.17 L209.08,458.50 L207.39,458.82 L205.62,459.10 L203.79,459.34 L201.92,459.53 L200.02,459.66 L198.12,459.72 L196.24,459.71 L194.39,459.62 L192.61,459.46 L190.90,459.24 L189.29,458.96 L187.80,458.64 L186.43,458.29 L185.22,457.93 L184.16,457.56 L183.27,457.21 L182.56,456.89 L182.05,456.62 L181.72,456.39 L181.60,456.22 L181.67,456.08 L181.94,455.92 L182.41,455.73 L183.07,455.55 L183.91,455.37 L184.92,455.21 L186.10,455.08 L187.42,454.99 L188.88,454.94 L190.47,454.95 L192.15,455.01 L193.92,455.13 L195.75,455.30 L197.63,455.53 L199.53,455.80 L201.43,456.01 L203.31,456.24 L205.16,456.50 L206.95,456.79 L208.66,457.10 L210.27,457.44 L211.77,457.79 L213.14,458.15 L214.37,458.51 L215.43,458.88 L216.32,459.23 L217.04,459.57 L217.56,459.89 L217.89,460.18 L218.02,460.44 L217.96,460.59 L217.69,460.75 L217.23,460.94 L216.58,461.17 L215.75,461.43 L214.74,461.72 L213.57,462.03 L212.25,462.36 L210.79,462.70 L209.21,463.03 L207.53,463.34 L205.77,463.63 L203.94,463.87 L202.07,464.06 L200.17,464.19 L198.27,464.26 L196.38,464.25 L194.54,464.16 L192.75,464.01 L191.04,463.79 L189.42,463.52 L187.92,463.20 L186.55,462.85 L185.33,462.48 L184.26,462.12 L183.37,461.77 L182.65,461.45 L182.13,461.17 L181.79,460.94 L181.66,460.77 L181.72,460.63 L181.98,460.46 L182.44,460.28 L183.09,460.10 L183.92,459.91 L184.93,459.75 L186.10,459.62 L187.42,459.53 L188.87,459.48 L190.45,459.49 L192.13,459.55 L193.89,459.66 L195.72,459.83 L197.60,460.06 L199.50,460.32 L201.40,460.54 L203.29,460.76 L205.14,461.03 L206.93,461.31 L208.64,461.63 L210.26,461.96 L211.77,462.31 L213.14,462.67 L214.37,463.04 L215.44,463.40 L216.34,463.75 L217.07,464.09 L217.60,464.41 L217.94,464.70 L218.08,464.97 L218.02,465.12 L217.77,465.28 L217.32,465.47 L216.67,465.70 L215.85,465.96 L214.85,466.25 L213.69,466.56 L212.37,466.89 L210.92,467.22 L209.35,467.55 L207.67,467.87 L205.91,468.15 L204.09,468.40 L202.22,468.60 L200.32,468.73 L198.42,468.80 L196.53,468.79 L194.68,468.71 L192.89,468.56 L191.18,468.34 L189.56,468.07 L188.05,467.75 L186.67,467.40 L185.44,467.04 L184.37,466.67 L183.47,466.32 L182.74,466.00 L182.21,465.72 L181.86,465.49 L181.72,465.32 L181.77,465.18 L182.03,465.01 L182.48,464.83 L183.12,464.64 L183.94,464.46 L184.94,464.30 L186.10,464.17 L187.41,464.07 L188.86,464.02 L190.43,464.03 L192.11,464.08 L193.87,464.20 L195.69,464.37 L197.57,464.58 L199.47,464.85 L201.37,465.07 L203.26,465.29 L205.11,465.55 L206.91,465.84 L208.62,466.15 L210.25,466.49 L211.76,466.84 L213.14,467.20 L214.38,467.56 L215.46,467.92 L216.37,468.28 L217.10,468.62 L217.64,468.94 L217.99,469.23 L218.14,469.49 L218.09,469.65 L217.84,469.81 L217.40,470.00 L216.77,470.23 L215.95,470.49 L214.96,470.77 L213.80,471.08 L212.50,471.41 L211.05,471.75 L209.48,472.08 L207.81,472.39 L206.06,472.68 L204.23,472.93 L202.36,473.13 L200.47,473.26 L198.57,473.33 L196.68,473.33 L194.83,473.26 L193.03,473.11 L191.31,472.89 L189.69,472.62 L188.18,472.31 L186.80,471.96 L185.56,471.60 L184.48,471.23 L183.56,470.88 L182.83,470.56 L182.29,470.27 L181.94,470.04 L181.78,469.86 L181.83,469.72 L182.07,469.56 L182.51,469.38 L183.14,469.19 L183.96,469.01 L184.95,468.85 L186.10,468.71 L187.41,468.62 L188.85,468.56 L190.42,468.56 L192.09,468.62 L193.84,468.73 L195.67,468.90 L197.54,469.11 L199.44,469.38 L201.34,469.60 L203.23,469.82 L205.08,470.08 L206.88,470.37 L208.61,470.68 L210.23,471.01 L211.75,471.36 L213.14,471.72 L214.38,472.08 L215.47,472.45 L216.39,472.80 L217.13,473.14 L217.68,473.46 L218.04,473.76 L218.20,474.02 L218.16,474.19 L217.92,474.34 L217.49,474.53 L216.86,474.76 L216.05,475.01 L215.07,475.30 L213.92,475.61 L212.62,475.94 L211.18,476.27 L209.62,476.60 L207.95,476.92 L206.20,477.21 L204.38,477.46 L202.51,477.66 L200.62,477.80 L198.71,477.87 L196.83,477.87 L194.97,477.80 L193.18,477.66 L191.45,477.45 L189.82,477.18 L188.31,476.86 L186.92,476.52 L185.67,476.15 L184.58,475.79 L183.66,475.44 L182.92,475.11 L182.37,474.83 L182.01,474.59 L181.85,474.41 L181.88,474.27 L182.12,474.11 L182.55,473.93 L183.17,473.74 L183.97,473.56 L184.96,473.39 L186.10,473.26 L187.40,473.16 L188.84,473.11 L190.40,473.10 L192.07,473.16 L193.82,473.26 L195.64,473.43 L197.51,473.64 L199.41,473.90 L201.31,474.13 L203.20,474.35 L205.06,474.61 L206.86,474.89 L208.59,475.20 L210.22,475.54 L211.74,475.88 L213.14,476.24 L214.39,476.61 L215.48,476.97 L216.41,477.32 L217.16,477.67 L217.72,477.99 L218.08,478.28 L218.25,478.55 L218.22,478.72 L218.00,478.87 L217.57,479.06 L216.96,479.29 L216.16,479.54 L215.18,479.83 L214.04,480.13 L212.74,480.46 L211.31,480.79 L209.76,481.13 L208.09,481.44 L206.35,481.74 L204.53,481.99 L202.66,482.19 L200.77,482.33 L198.86,482.41 L196.97,482.41 L195.12,482.35 L193.32,482.20 L191.59,482.00 L189.96,481.73 L188.44,481.42 L187.04,481.07 L185.79,480.71 L184.69,480.35 L183.76,479.99 L183.01,479.67 L182.45,479.38 L182.08,479.14 L181.91,478.96 L181.93,478.82 L182.16,478.66 L182.58,478.48 L183.19,478.29 L183.99,478.11 L184.97,477.94 L186.11,477.80 L187.40,477.70 L188.83,477.65 L190.39,477.64 L192.05,477.69 L193.80,477.80 L195.61,477.96 L197.48,478.17 L199.38,478.43 L201.28,478.66 L203.17,478.88 L205.03,479.13 L206.84,479.42 L208.57,479.73 L210.21,480.06 L211.73,480.41 L213.13,480.77 L214.39,481.13 L215.50,481.49 L216.43,481.85 L217.18,482.19 L217.75,482.51 L218.13,482.81 L218.31,483.08 L218.29,483.25 L218.07,483.41 L217.66,483.59 L217.05,483.81 L216.26,484.07 L215.29,484.35 L214.16,484.66 L212.87,484.98 L211.44,485.32 L209.89,485.65 L208.23,485.97 L206.49,486.26 L204.67,486.52 L202.81,486.72 L200.92,486.87 L199.01,486.95 L197.12,486.96 L195.27,486.89 L193.46,486.75 L191.73,486.55 L190.09,486.29 L188.56,485.98 L187.16,485.63 L185.90,485.27 L184.80,484.90 L183.86,484.55 L183.10,484.22 L182.53,483.93 L182.15,483.69 L181.97,483.50 L181.99,483.36 L182.21,483.20 L182.62,483.03 L183.22,482.84 L184.01,482.66 L184.98,482.49 L186.11,482.35 L187.39,482.25 L188.82,482.19 L190.37,482.18 L192.03,482.23 L193.77,482.33 L195.59,482.49 L197.45,482.70 L199.35,482.96 L201.25,483.19 L203.15,483.41 L205.01,483.66 L206.81,483.94 L208.55,484.25 L210.19,484.58 L211.72,484.93 L213.13,485.29 L214.40,485.65 L215.51,486.01 L216.45,486.37 L217.21,486.71 L217.79,487.04 L218.18,487.34 L218.37,487.61 L218.35,487.79 L218.15,487.94 L217.74,488.12 L217.14,488.34 L216.36,488.60 L215.40,488.88 L214.27,489.18 L212.99,489.51 L211.57,489.84 L210.03,490.18 L208.37,490.50 L206.63,490.79 L204.82,491.05 L202.96,491.25 L201.06,491.40 L199.16,491.49 L197.27,491.50 L195.41,491.44 L193.61,491.30 L191.87,491.10 L190.23,490.84 L188.69,490.53 L187.28,490.19 L186.02,489.83 L184.91,489.46 L183.96,489.10 L183.20,488.77 L182.62,488.48 L182.23,488.24 L182.04,488.05 L182.04,487.91 L182.25,487.75 L182.65,487.57 L183.25,487.39 L184.03,487.20 L184.99,487.04 L186.11,486.90 L187.39,486.79 L188.81,486.73 L190.35,486.72 L192.01,486.77 L193.75,486.87 L195.56,487.02 L197.43,487.23 L199.32,487.48" stroke-width="1.15" stroke-linejoin="round"/>
<path d="M517.38,270.58 L519.22,270.89 L521.07,271.18 L522.90,271.43 L524.71,271.75 L526.47,272.16 L528.16,272.63 L529.77,273.16 L531.27,273.75 L532.65,274.38 L533.89,275.04 L534.99,275.73 L535.93,276.42 L536.69,277.10 L537.28,277.77 L537.68,278.41 L537.89,279.01 L537.91,279.45 L537.74,279.82 L537.38,280.30 L536.83,280.88 L536.10,281.56 L535.20,282.33 L534.14,283.18 L532.93,284.09 L531.58,285.04 L530.11,286.00 L528.53,286.95 L526.87,287.85 L525.13,288.67 L523.35,289.38 L521.53,289.96 L519.70,290.38 L517.88,290.64 L516.08,290.72 L514.34,290.63 L512.66,290.37 L511.07,289.96 L509.57,289.42 L508.20,288.78 L506.97,288.09 L505.88,287.36 L504.95,286.63 L504.19,285.94 L503.61,285.32 L503.21,284.78 L503.01,284.35 L502.99,284.02 L503.17,283.64 L503.54,283.18 L504.09,282.68 L504.82,282.15 L505.73,281.62 L506.80,281.14 L508.02,280.71 L509.38,280.36 L510.86,280.10 L512.44,279.96 L514.12,279.93 L515.87,280.01 L517.67,280.21 L519.50,280.51 L521.35,280.82 L523.19,281.06 L525.00,281.37 L526.77,281.77 L528.47,282.23 L530.08,282.76 L531.60,283.34 L532.99,283.96 L534.25,284.62 L535.37,285.30 L536.32,286.00 L537.11,286.68 L537.72,287.36 L538.14,288.00 L538.38,288.60 L538.42,289.07 L538.27,289.43 L537.93,289.90 L537.40,290.46 L536.70,291.13 L535.82,291.89 L534.77,292.73 L533.58,293.64 L532.25,294.59 L530.79,295.55 L529.23,296.50 L527.57,297.40 L525.84,298.23 L524.06,298.96 L522.24,299.56 L520.41,300.00 L518.59,300.28 L516.79,300.38 L515.04,300.31 L513.35,300.07 L511.75,299.67 L510.24,299.15 L508.86,298.52 L507.60,297.83 L506.50,297.10 L505.55,296.38 L504.77,295.68 L504.17,295.05 L503.75,294.50 L503.52,294.06 L503.48,293.72 L503.64,293.35 L503.98,292.90 L504.52,292.40 L505.23,291.87 L506.11,291.34 L507.16,290.85 L508.37,290.41 L509.71,290.05 L511.18,289.79 L512.75,289.63 L514.42,289.58 L516.16,289.66 L517.95,289.84 L519.79,290.13 L521.63,290.46 L523.47,290.68 L525.29,290.99 L527.06,291.38 L528.77,291.83 L530.40,292.35 L531.92,292.93 L533.33,293.55 L534.61,294.20 L535.75,294.88 L536.72,295.57 L537.53,296.26 L538.16,296.94 L538.60,297.58 L538.86,298.19 L538.92,298.69 L538.80,299.05 L538.48,299.50 L537.97,300.05 L537.29,300.71 L536.43,301.46 L535.40,302.29 L534.23,303.19 L532.91,304.13 L531.47,305.10 L529.91,306.05 L528.27,306.96 L526.55,307.80 L524.77,308.54 L522.96,309.16 L521.13,309.62 L519.30,309.92 L517.50,310.04 L515.74,309.99 L514.05,309.76 L512.43,309.38 L510.92,308.88 L509.51,308.26 L508.24,307.57 L507.12,306.85 L506.15,306.12 L505.35,305.42 L504.73,304.78 L504.29,304.22 L504.04,303.76 L503.98,303.42 L504.11,303.06 L504.43,302.62 L504.94,302.12 L505.64,301.59 L506.50,301.06 L507.53,300.57 L508.72,300.12 L510.04,299.75 L511.50,299.47 L513.06,299.30 L514.72,299.24 L516.45,299.30 L518.24,299.47 L520.07,299.75 L521.91,300.10 L523.76,300.31 L525.58,300.61 L527.36,300.99 L529.07,301.43 L530.71,301.95 L532.25,302.52 L533.67,303.13 L534.97,303.79 L536.12,304.46 L537.11,305.15 L537.94,305.84 L538.59,306.52 L539.06,307.17 L539.34,307.78 L539.43,308.32 L539.32,308.66 L539.03,309.10 L538.54,309.64 L537.88,310.29 L537.04,311.03 L536.03,311.85 L534.87,312.74 L533.57,313.68 L532.14,314.64 L530.60,315.60 L528.97,316.52 L527.25,317.37 L525.48,318.12 L523.67,318.75 L521.85,319.23 L520.02,319.55 L518.21,319.69 L516.45,319.66 L514.74,319.46 L513.12,319.10 L511.59,318.60 L510.17,318.00 L508.89,317.32 L507.74,316.60 L506.76,315.87 L505.94,315.16 L505.29,314.51 L504.83,313.94 L504.56,313.47 L504.48,313.12 L504.58,312.77 L504.89,312.33 L505.37,311.84 L506.04,311.31 L506.89,310.79 L507.90,310.28 L509.07,309.83 L510.38,309.45 L511.82,309.16 L513.37,308.98 L515.02,308.90 L516.74,308.95 L518.53,309.11 L520.35,309.37 L522.20,309.74 L524.04,309.94 L525.86,310.23 L527.65,310.60 L529.37,311.04 L531.02,311.54 L532.57,312.11 L534.01,312.72 L535.32,313.37 L536.49,314.04 L537.51,314.73 L538.35,315.42 L539.02,316.10 L539.51,316.76 L539.81,317.37 L539.92,317.94 L539.84,318.27 L539.57,318.70 L539.11,319.23 L538.47,319.87 L537.65,320.59 L536.66,321.41 L535.52,322.29 L534.23,323.23 L532.82,324.19 L531.29,325.15 L529.66,326.07 L527.96,326.93 L526.19,327.70 L524.39,328.34 L522.56,328.84 L520.73,329.18 L518.92,329.35 L517.15,329.33 L515.44,329.15 L513.80,328.81 L512.26,328.33 L510.83,327.73 L509.53,327.06 L508.37,326.34 L507.37,325.61 L506.53,324.90 L505.86,324.24 L505.38,323.66 L505.08,323.18 L504.98,322.81 L505.06,322.47 L505.34,322.05 L505.81,321.56 L506.46,321.04 L507.28,320.51 L508.28,320.00 L509.43,319.54 L510.72,319.15 L512.14,318.85 L513.68,318.65 L515.32,318.57 L517.04,318.60 L518.81,318.74 L520.64,319.00 L522.48,319.35 L524.32,319.57 L526.15,319.85 L527.94,320.21 L529.68,320.64 L531.33,321.14 L532.90,321.70 L534.35,322.30 L535.68,322.95 L536.86,323.62 L537.89,324.31 L538.76,325.00 L539.45,325.68 L539.96,326.34 L540.29,326.96 L540.42,327.53 L540.36,327.89 L540.11,328.31 L539.67,328.82 L539.05,329.45 L538.25,330.16 L537.28,330.97 L536.16,331.85 L534.89,332.78 L533.49,333.74 L531.97,334.69 L530.36,335.62 L528.66,336.49 L526.91,337.27 L525.10,337.94 L523.28,338.45 L521.45,338.81 L519.64,339.00 L517.86,339.00 L516.14,338.84 L514.49,338.51 L512.94,338.05 L511.50,337.47 L510.18,336.80 L509.00,336.09 L507.98,335.36 L507.12,334.64 L506.43,333.98 L505.92,333.39 L505.61,332.89 L505.48,332.51 L505.54,332.18 L505.80,331.76 L506.24,331.28 L506.87,330.76 L507.68,330.23 L508.65,329.72 L509.78,329.25 L511.06,328.85 L512.47,328.54 L514.00,328.33 L515.62,328.23 L517.33,328.25 L519.10,328.38 L520.92,328.62 L522.76,328.96 L524.61,329.21 L526.44,329.48 L528.23,329.82 L529.97,330.25 L531.64,330.74 L533.22,331.29 L534.69,331.89 L536.03,332.53 L537.23,333.20 L538.28,333.89 L539.17,334.58 L539.88,335.26 L540.41,335.92 L540.76,336.55 L540.92,337.13 L540.88,337.51 L540.65,337.91 L540.23,338.42 L539.63,339.03 L538.85,339.73 L537.91,340.53 L536.80,341.40 L535.55,342.33 L534.16,343.28 L532.66,344.24 L531.05,345.18 L529.37,346.06 L527.62,346.85 L525.82,347.52 L523.99,348.06 L522.16,348.44 L520.35,348.64 L518.57,348.67 L516.84,348.53 L515.18,348.22 L513.62,347.77 L512.16,347.20 L510.83,346.54 L509.63,345.83 L508.59,345.10 L507.71,344.38 L507.00,343.71 L506.47,343.11 L506.13,342.61 L505.98,342.21 L506.02,341.88 L506.26,341.47 L506.68,341.00 L507.29,340.48 L508.07,339.95 L509.03,339.44 L510.14,338.96 L511.40,338.55 L512.80,338.23 L514.31,338.01 L515.93,337.90 L517.63,337.90 L519.39,338.02 L521.20,338.25 L523.04,338.58 L524.89,338.84 L526.72,339.10 L528.52,339.44 L530.27,339.85 L531.95,340.34 L533.54,340.88 L535.02,341.48 L536.38,342.11 L537.60,342.78 L538.67,343.47 L539.57,344.16 L540.31,344.84 L540.86,345.51 L541.23,346.14 L541.41,346.72 L541.39,347.13 L541.19,347.52 L540.79,348.01 L540.21,348.61 L539.46,349.31 L538.53,350.09 L537.44,350.95 L536.20,351.87 L534.83,352.83 L533.34,353.79 L531.75,354.73 L530.07,355.62 L528.32,356.42 L526.53,357.11 L524.71,357.67 L522.88,358.06 L521.06,358.29 L519.27,358.34 L517.54,358.21 L515.87,357.92 L514.30,357.49 L512.83,356.93 L511.48,356.29 L510.26,355.58 L509.20,354.85 L508.30,354.13 L507.57,353.45 L507.03,352.84 L506.66,352.32 L506.49,351.91 L506.51,351.58 L506.72,351.19 L507.12,350.72 L507.71,350.20 L508.47,349.67 L509.41,349.15 L510.50,348.68 L511.75,348.26 L513.13,347.92 L514.63,347.69 L516.23,347.56 L517.92,347.55 L519.68,347.66 L521.49,347.87" stroke-width="1.15" stroke-linejoin="round"/>
<path d="M574.40,272.13 L576.23,272.43 L578.06,272.75 L579.90,272.98 L581.70,273.29 L583.47,273.68 L585.16,274.14 L586.78,274.66 L588.29,275.24 L589.69,275.86 L590.95,276.52 L592.07,277.20 L593.03,277.89 L593.83,278.58 L594.44,279.26 L594.87,279.90 L595.12,280.51 L595.17,280.99 L595.03,281.35 L594.70,281.81 L594.19,282.37 L593.49,283.04 L592.63,283.79 L591.59,284.63 L590.41,285.54 L589.09,286.48 L587.65,287.45 L586.09,288.40 L584.45,289.31 L582.73,290.14 L580.96,290.87 L579.15,291.48 L577.33,291.93 L575.51,292.21 L573.72,292.32 L571.98,292.25 L570.29,292.01 L568.69,291.62 L567.19,291.10 L565.81,290.47 L564.56,289.78 L563.45,289.05 L562.51,288.32 L561.73,287.63 L561.12,286.99 L560.70,286.44 L560.47,286.00 L560.43,285.66 L560.58,285.29 L560.93,284.84 L561.45,284.33 L562.16,283.81 L563.04,283.28 L564.09,282.79 L565.28,282.35 L566.62,281.99 L568.08,281.72 L569.64,281.56 L571.30,281.52 L573.04,281.59 L574.82,281.77 L576.65,282.06 L578.49,282.39 L580.32,282.61 L582.13,282.92 L583.89,283.31 L585.59,283.77 L587.21,284.29 L588.73,284.86 L590.13,285.48 L591.40,286.14 L592.53,286.82 L593.50,287.51 L594.30,288.20 L594.92,288.88 L595.36,289.53 L595.61,290.13 L595.67,290.63 L595.54,290.98 L595.22,291.44 L594.71,292.00 L594.03,292.65 L593.17,293.41 L592.14,294.24 L590.97,295.15 L589.65,296.09 L588.21,297.05 L586.66,298.01 L585.02,298.92 L583.30,299.76 L581.53,300.49 L579.73,301.10 L577.91,301.56 L576.09,301.85 L574.30,301.97 L572.55,301.90 L570.86,301.67 L569.26,301.29 L567.76,300.77 L566.37,300.15 L565.11,299.46 L564.00,298.73 L563.04,298.01 L562.26,297.31 L561.65,296.67 L561.22,296.11 L560.98,295.66 L560.93,295.32 L561.07,294.96 L561.41,294.51 L561.93,294.01 L562.63,293.48 L563.50,292.95 L564.54,292.46 L565.73,292.01 L567.06,291.65 L568.51,291.38 L570.08,291.21 L571.73,291.17 L573.46,291.23 L575.25,291.41 L577.07,291.70 L578.91,292.03 L580.74,292.25 L582.55,292.56 L584.32,292.94 L586.02,293.39 L587.64,293.91 L589.17,294.49 L590.57,295.11 L591.85,295.76 L592.98,296.44 L593.96,297.13 L594.77,297.82 L595.40,298.50 L595.84,299.15 L596.10,299.76 L596.17,300.27 L596.05,300.62 L595.74,301.07 L595.24,301.62 L594.56,302.27 L593.71,303.02 L592.69,303.86 L591.52,304.76 L590.21,305.70 L588.77,306.66 L587.23,307.62 L585.59,308.53 L583.88,309.37 L582.11,310.11 L580.31,310.73 L578.49,311.19 L576.67,311.49 L574.87,311.61 L573.12,311.56 L571.43,311.34 L569.83,310.96 L568.32,310.45 L566.92,309.83 L565.66,309.14 L564.54,308.42 L563.58,307.69 L562.79,306.99 L562.17,306.34 L561.73,305.79 L561.49,305.33 L561.43,304.99 L561.56,304.62 L561.89,304.18 L562.40,303.68 L563.09,303.15 L563.96,302.62 L564.99,302.13 L566.17,301.68 L567.50,301.31 L568.95,301.04 L570.51,300.87 L572.16,300.81 L573.89,300.88 L575.67,301.05 L577.49,301.33 L579.33,301.68 L581.16,301.89 L582.97,302.19 L584.74,302.57 L586.45,303.02 L588.08,303.54 L589.60,304.11 L591.02,304.73 L592.30,305.38 L593.44,306.06 L594.42,306.75 L595.23,307.44 L595.87,308.12 L596.33,308.77 L596.60,309.38 L596.67,309.90 L596.56,310.25 L596.26,310.69 L595.76,311.24 L595.09,311.89 L594.25,312.64 L593.24,313.47 L592.07,314.37 L590.77,315.31 L589.34,316.27 L587.80,317.23 L586.16,318.14 L584.45,318.99 L582.69,319.74 L580.88,320.36 L579.06,320.83 L577.25,321.13 L575.45,321.26 L573.70,321.22 L572.01,321.00 L570.39,320.63 L568.88,320.12 L567.48,319.51 L566.21,318.82 L565.09,318.10 L564.12,317.37 L563.32,316.66 L562.69,316.02 L562.25,315.46 L561.99,315.00 L561.93,314.65 L562.05,314.29 L562.37,313.85 L562.87,313.35 L563.56,312.82 L564.42,312.30 L565.44,311.80 L566.62,311.35 L567.94,310.98 L569.38,310.70 L570.94,310.52 L572.59,310.46 L574.31,310.52 L576.09,310.69 L577.91,310.97 L579.75,311.32 L581.58,311.53 L583.40,311.83 L585.17,312.20 L586.88,312.65 L588.51,313.17 L590.04,313.74 L591.46,314.35 L592.75,315.01 L593.89,315.68 L594.88,316.37 L595.70,317.06 L596.35,317.74 L596.81,318.39 L597.09,319.01 L597.17,319.54 L597.07,319.88 L596.77,320.32 L596.29,320.87 L595.63,321.51 L594.79,322.26 L593.78,323.08 L592.63,323.98 L591.33,324.92 L589.90,325.88 L588.37,326.84 L586.74,327.75 L585.03,328.60 L583.27,329.36 L581.46,329.98 L579.64,330.46 L577.82,330.77 L576.03,330.91 L574.27,330.87 L572.58,330.66 L570.96,330.30 L569.44,329.79 L568.04,329.19 L566.76,328.50 L565.63,327.78 L564.66,327.05 L563.85,326.34 L563.21,325.70 L562.76,325.13 L562.50,324.67 L562.43,324.31 L562.54,323.96 L562.85,323.52 L563.35,323.02 L564.03,322.50 L564.88,321.97 L565.89,321.47 L567.07,321.02 L568.38,320.64 L569.82,320.36 L571.37,320.18 L573.01,320.11 L574.73,320.17 L576.51,320.33 L578.33,320.60 L580.17,320.96 L582.00,321.17 L583.82,321.46 L585.59,321.84 L587.31,322.28 L588.94,322.79 L590.48,323.36 L591.90,323.98 L593.19,324.63 L594.35,325.30 L595.34,325.99 L596.17,326.69 L596.83,327.36 L597.30,328.02 L597.58,328.63 L597.68,329.18 L597.58,329.51 L597.29,329.95 L596.81,330.49 L596.16,331.13 L595.33,331.87 L594.33,332.70 L593.18,333.59 L591.89,334.53 L590.47,335.49 L588.93,336.44 L587.31,337.37 L585.60,338.22 L583.84,338.98 L582.04,339.61 L580.22,340.09 L578.40,340.41 L576.60,340.56 L574.85,340.53 L573.15,340.32 L571.53,339.96 L570.01,339.47 L568.60,338.86 L567.32,338.18 L566.18,337.46 L565.20,336.73 L564.38,336.02 L563.74,335.37 L563.28,334.80 L563.01,334.33 L562.93,333.98 L563.04,333.63 L563.34,333.19 L563.82,332.70 L564.49,332.17 L565.34,331.64 L566.35,331.14 L567.51,330.69 L568.82,330.31 L570.25,330.02 L571.80,329.84 L573.44,329.77 L575.16,329.81 L576.94,329.97 L578.75,330.24 L580.59,330.60 L582.43,330.81 L584.24,331.10 L586.02,331.47 L587.73,331.91 L589.37,332.42 L590.91,332.98 L592.34,333.60 L593.64,334.25 L594.80,334.92 L595.80,335.61 L596.64,336.31 L597.30,336.98 L597.78,337.64 L598.07,338.25 L598.18,338.82 L598.09,339.15 L597.81,339.58 L597.34,340.12 L596.69,340.75 L595.87,341.49 L594.88,342.31 L593.73,343.20 L592.44,344.14 L591.03,345.10 L589.50,346.05 L587.88,346.98 L586.18,347.83 L584.42,348.60 L582.62,349.23 L580.80,349.73 L578.98,350.05 L577.18,350.21 L575.42,350.18 L573.72,349.99 L572.10,349.63 L570.57,349.14 L569.15,348.54 L567.87,347.86 L566.72,347.14 L565.73,346.41 L564.91,345.70 L564.26,345.05 L563.79,344.48 L563.51,344.00 L563.42,343.64 L563.53,343.29 L563.82,342.86 L564.30,342.37 L564.96,341.84 L565.80,341.31 L566.80,340.81 L567.96,340.35 L569.26,339.97 L570.69,339.68 L572.23,339.49 L573.87,339.42 L575.58,339.46 L577.36,339.61 L579.18,339.88 L581.01,340.24 L582.85,340.45 L584.66,340.74 L586.44,341.10 L588.16,341.54 L589.80,342.05 L591.35,342.61 L592.78,343.22 L594.09,343.87 L595.25,344.54 L596.26,345.23 L597.11,345.93 L597.78,346.61 L598.26,347.26 L598.56,347.88 L598.67,348.45 L598.59,348.78 L598.32,349.21 L597.86,349.74 L597.22,350.38 L596.40,351.11 L595.42,351.92 L594.28,352.81 L593.00,353.74 L591.59,354.71 L590.07,355.66 L588.45,356.59 L586.75,357.45 L585.00,358.22 L583.20,358.86 L581.38,359.36 L579.56,359.69 L577.76,359.85 L575.99,359.84 L574.29,359.65 L572.66,359.30 L571.13,358.82 L569.71,358.22 L568.42,357.54 L567.27,356.82 L566.27,356.09 L565.44,355.38 L564.79,354.73 L564.31,354.15 L564.02,353.67 L563.92,353.30 L564.02,352.96 L564.30,352.53 L564.77,352.04 L565.43,351.52 L566.26,350.99 L567.25,350.48 L568.41,350.02 L569.70,349.64 L571.12,349.34 L572.66,349.15 L574.30,349.07 L576.01,349.10 L577.78,349.25" stroke-width="1.15" stroke-linejoin="round"/>
</g>
<g>
<text x="369.10" y="48.9" textLength="113.70" lengthAdjust="spacing" xml:space="preserve">AC stick welder</text>
<text x="569.80" y="48.9" textLength="61.30" lengthAdjust="spacing" xml:space="preserve">Rectifier</text>
<text x="270.10" y="109.3" textLength="130.60" lengthAdjust="spacing" xml:space="preserve">Suppression caps.:</text>
<text x="266.50" y="129.3" textLength="143.20" lengthAdjust="spacing" xml:space="preserve">5 parallel of 2 series</text>
<text x="297.70" y="149.3" textLength="62.10" lengthAdjust="spacing" xml:space="preserve">0,047uF</text>
<text x="245.30" y="170" textLength="235.00" lengthAdjust="spacing" xml:space="preserve">w/4,7Mohm on each for bleeding</text>
<text x="381.00" y="210.75" textLength="121.80" lengthAdjust="spacing" xml:space="preserve">9 x  1nF in series</text>
<text x="389.30" y="230.4" textLength="102.70" lengthAdjust="spacing" xml:space="preserve">1600Vdc each</text>
<text x="351.30" y="352.5" textLength="77.80" lengthAdjust="spacing" xml:space="preserve">Spark gaps</text>
<text x="353.50" y="393.6" textLength="84.70" lengthAdjust="spacing" xml:space="preserve">About 3mm</text>
<text x="378.30" y="413.2" textLength="33.10" lengthAdjust="spacing" xml:space="preserve">each</text>
<text x="36.35" y="230.8" textLength="59.25" lengthAdjust="spacing" xml:space="preserve">Dimmer</text>
<text x="151.80" y="271.4" textLength="29.00" lengthAdjust="spacing" xml:space="preserve">4uF</text>
<text x="36.90" y="312.6" textLength="38.90" lengthAdjust="spacing" xml:space="preserve">220V</text>
<text x="37.50" y="332.5" textLength="39.00" lengthAdjust="spacing" xml:space="preserve">50Hz</text>
<text x="37.40" y="454.8" textLength="55.30" lengthAdjust="spacing" xml:space="preserve">Car ign.</text>
<text x="37.40" y="474.5" textLength="24.90" lengthAdjust="spacing" xml:space="preserve">coil</text>
<text x="454.00" y="312.5" textLength="30.50" lengthAdjust="spacing" xml:space="preserve">10 t.</text>
<text x="609.90" y="312.5" textLength="27.60" lengthAdjust="spacing" xml:space="preserve">14t.</text>
<text x="548.30" y="393.3" textLength="98.80" lengthAdjust="spacing" xml:space="preserve">ferrite “yoke”</text>
<text x="558.50" y="413.5" textLength="69.80" lengthAdjust="spacing" xml:space="preserve">core from</text>
<text x="556.80" y="434.6" textLength="77.50" lengthAdjust="spacing" xml:space="preserve">a 15” CRT</text>
<text x="556.50" y="454.6" textLength="56.60" lengthAdjust="spacing" xml:space="preserve">monitor</text>
</g></svg>
<svg id="marks" width="759" height="554" viewBox="0 0 759 554">
<path d="M610,314.7 L612,317.3 L614,314.7 L616,317.3 L618,314.7 L620,317.3 L622,314.7 L624,317.3 L626,314.7 L628,317.3 L630,314.7 L632,317.3 L634,314.7 L636,317.3 L638,314.7" stroke="#008000" stroke-width="1" fill="none" stroke-linejoin="miter"/>
<path d="M557.3,436.5 L559.3,439.1 L561.3,436.5 L563.3,439.1 L565.3,436.5" stroke="#008000" stroke-width="1" fill="none" stroke-linejoin="miter"/>
</svg></body></html>
